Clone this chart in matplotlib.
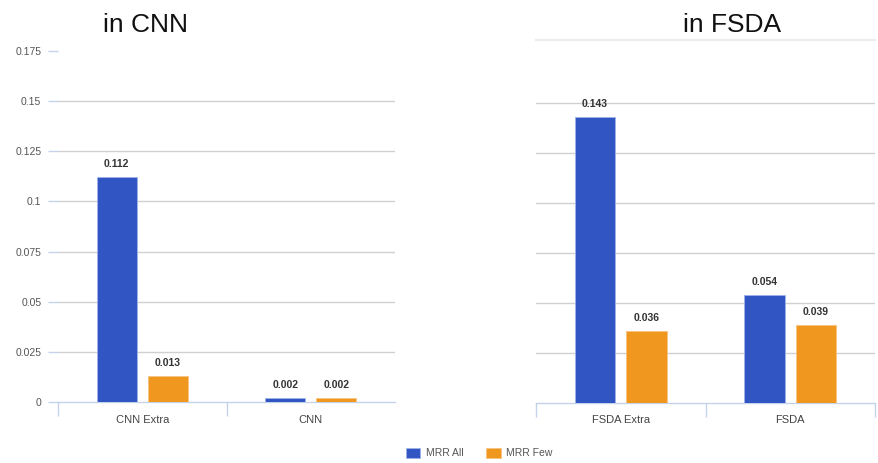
import numpy as np
import matplotlib.pyplot as plt

plt.rcParams['font.family'] = ['Liberation Sans', 'DejaVu Sans']

series = ["MRR All", "MRR Few"]
colors = ["#3156c4", "#ef971f"]

cnn_cats = ["CNN Extra", "CNN"]
cnn_all = [0.112, 0.002]
cnn_few = [0.013, 0.002]

fsda_cats = ["FSDA Extra", "FSDA"]
fsda_all = [0.143, 0.054]
fsda_few = [0.036, 0.039]

yticks = [0, 0.025, 0.05, 0.075, 0.1, 0.125, 0.15, 0.175]
ytick_labels = ["0", "0.025", "0.05", "0.075", "0.1", "0.125", "0.15", "0.175"]

fig = plt.figure(figsize=(8.79, 4.63), dpi=100)
ax1 = fig.add_axes([0.066, 0.1317, 0.3834, 0.758])
ax2 = fig.add_axes([0.6098, 0.1296, 0.3857, 0.784])

axis_col = "#c5d3ea"
grid_col = "#d0d0d0"
w = 0.238
off = 0.152


def draw(ax, cats, vals_all, vals_few, ymax, seps, title, title_x):
    x = np.arange(len(cats))
    handles = []
    for vals, sgn, c, name in [(vals_all, -1, colors[0], series[0]), (vals_few, 1, colors[1], series[1])]:
        b = ax.bar(x + sgn * off, vals, width=w, color=c, edgecolor="#9fb3e8" if sgn < 0 else "#f6c47e",
                   linewidth=0.6, label=name, zorder=3)
        handles.append(b)
        for xi, v in zip(x + sgn * off, vals):
            ax.annotate(f"{v:.3f}", (xi, v), xytext=(0, 6), textcoords="offset points",
                        ha="center", va="bottom", fontsize=7.5, fontweight="bold", color="#333333")
    for t in yticks[1:-1]:
        ax.axhline(t, color=grid_col, lw=1, zorder=1)
    ax.set_xlim(-0.5, len(cats) - 0.5)
    ax.set_ylim(0, ymax)
    for s in ["top", "right", "left"]:
        ax.spines[s].set_visible(False)
    ax.spines["bottom"].set_color(axis_col)
    ax.spines["bottom"].set_linewidth(1)
    ax.set_xticks(x)
    ax.set_xticklabels(cats, fontsize=8, color="#444444")
    ax.tick_params(axis="x", length=0, pad=9)
    ax.set_xticks(seps, minor=True)
    ax.tick_params(axis="x", which="minor", length=10, color=axis_col, width=1)
    fig.text(title_x, 0.945, title, fontsize=19, ha="center", va="center", color="#111111")
    return handles


handles = draw(ax1, cnn_cats, cnn_all, cnn_few, 0.175, [-0.5, 0.5], "in CNN", 0.165)
ax1.set_yticks(yticks)
ax1.set_yticklabels(ytick_labels, fontsize=7.5, color="#555555")
ax1.tick_params(axis="y", length=7, color=axis_col, width=1, pad=5)

draw(ax2, fsda_cats, fsda_all, fsda_few, 0.1815, [-0.5, 0.5, 1.5], "in FSDA", 0.833)
ax2.set_yticks([])
ax2.axhline(0.1815, color="#ececec", lw=1.5, zorder=1, clip_on=False)

fig.legend(handles, series, loc="lower center", bbox_to_anchor=(0.545, -0.01), ncol=2,
           frameon=False, fontsize=7.5, labelcolor="#555555", handlelength=1.4,
           handleheight=1.1, columnspacing=2.2, handletextpad=0.5)

fig.savefig("out.png", dpi=100)
